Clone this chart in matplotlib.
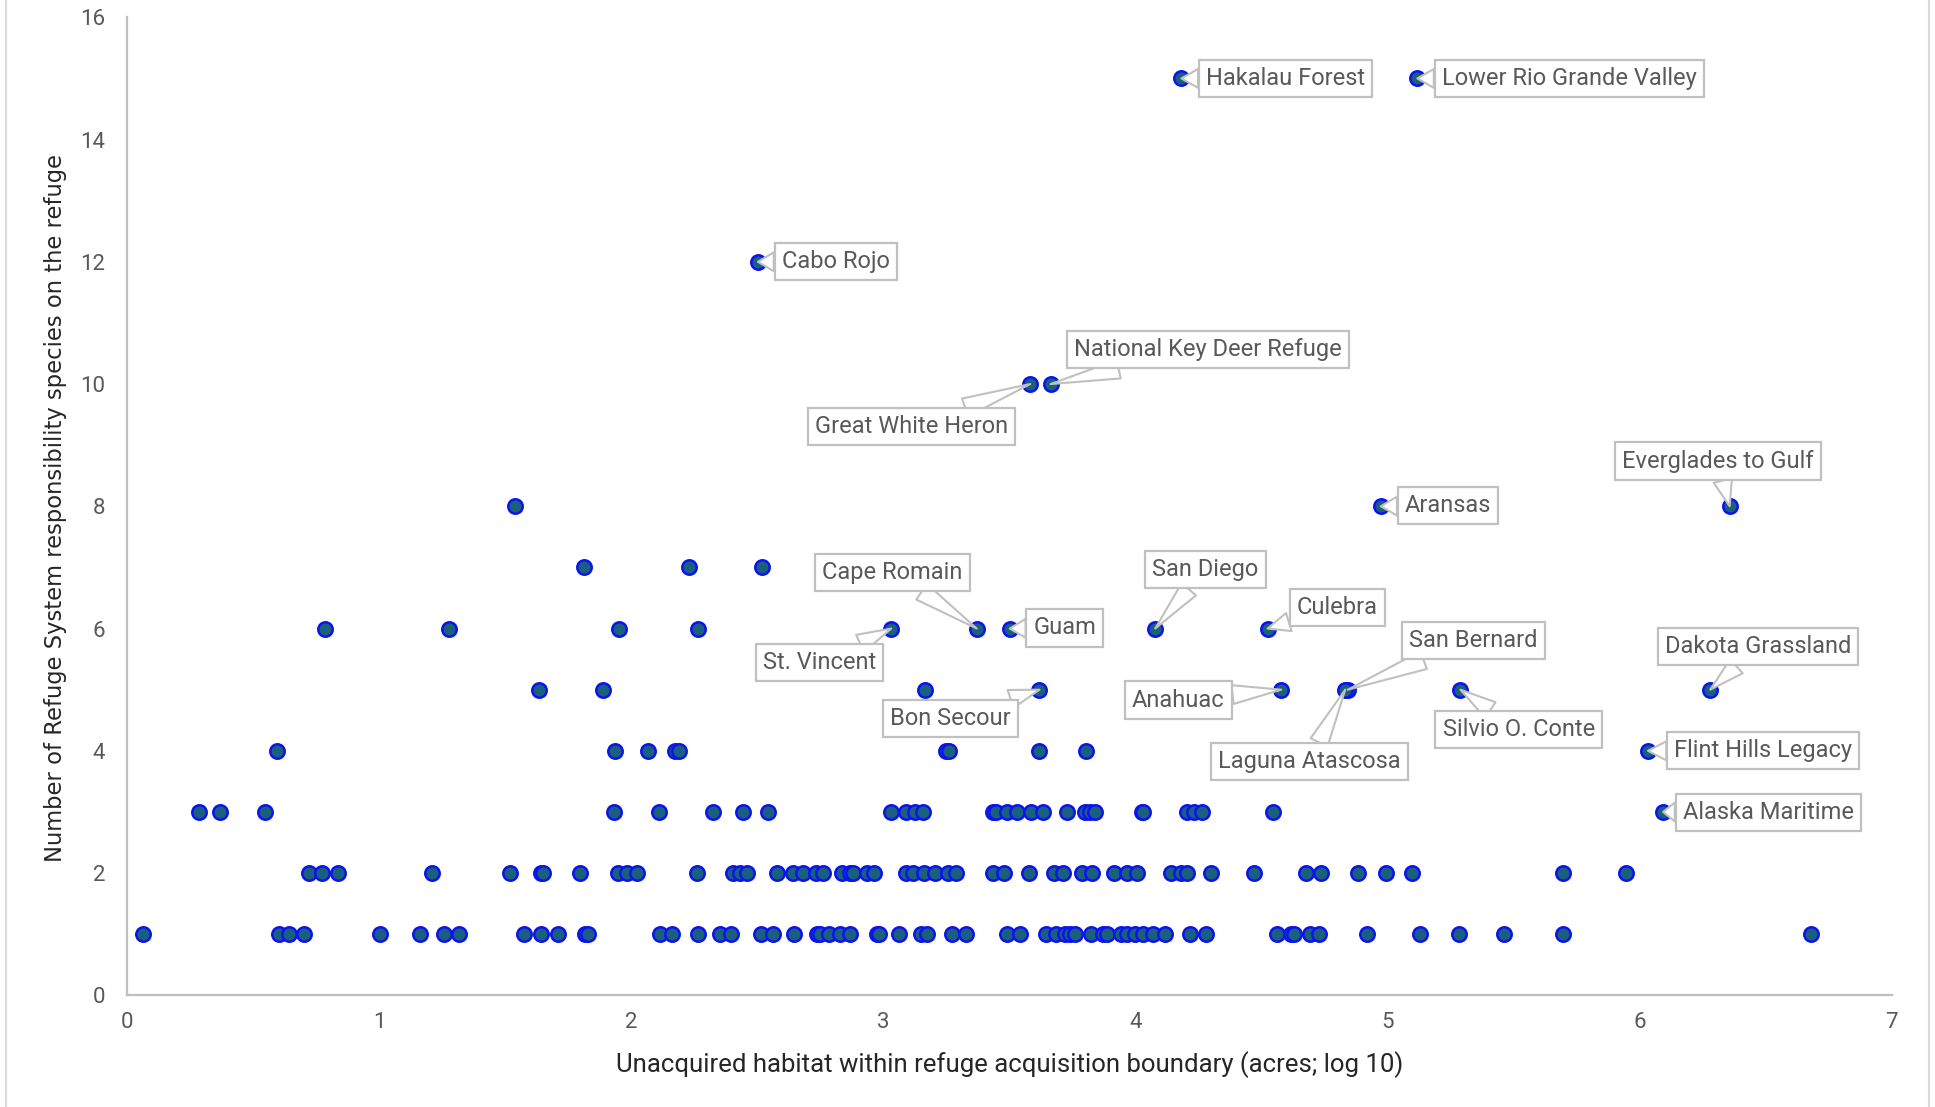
import matplotlib
matplotlib.use("Agg")
import matplotlib.pyplot as plt
from matplotlib.lines import Line2D

# ---------------- data ----------------
# unlabeled refuges, grouped by number of responsibility species (y)
row1_x = [0.064, 0.602, 0.640, 0.703, 1.004, 1.161, 1.258, 1.314, 1.572, 1.641,
          1.709, 1.816, 1.829, 2.115, 2.161, 2.265, 2.350, 2.395, 2.515, 2.560,
          2.647, 2.737, 2.749, 2.785, 2.827, 2.867, 2.975, 2.982, 3.063, 3.147,
          3.171, 3.272, 3.326, 3.490, 3.543, 3.645, 3.683, 3.719, 3.740, 3.760,
          3.823, 3.870, 3.888, 3.941, 3.966, 3.998, 4.028, 4.071, 4.117, 4.215,
          4.281, 4.562, 4.615, 4.627, 4.694, 4.726, 4.917, 5.130, 5.283, 5.463,
          5.694, 6.678]
row2_x = [0.719, 0.771, 0.834, 1.207, 1.517, 1.640, 1.648, 1.795, 1.947, 1.984,
          2.021, 2.260, 2.405, 2.432, 2.457, 2.579, 2.642, 2.679, 2.732, 2.762,
          2.834, 2.867, 2.880, 2.933, 2.962, 3.089, 3.119, 3.160, 3.203, 3.255,
          3.286, 3.436, 3.477, 3.576, 3.678, 3.711, 3.788, 3.827, 3.913, 3.966,
          4.004, 4.142, 4.179, 4.204, 4.298, 4.472, 4.676, 4.734, 4.881, 4.994,
          5.096, 5.697, 5.946]
row3_x = [0.283, 0.369, 0.546, 1.931, 2.110, 2.322, 2.441, 2.543, 3.028, 3.089,
          3.124, 3.155, 3.434, 3.447, 3.489, 3.530, 3.587, 3.632, 3.730, 3.801,
          3.820, 3.839, 4.027, 4.031, 4.204, 4.232, 4.262, 4.546]
row4_x = [0.594, 1.933, 2.064, 2.171, 2.188, 3.248, 3.258, 3.616, 3.805]
row5_x = [1.634, 1.887, 3.164]
row6_x = [0.786, 1.278, 1.951, 2.266]
row7_x = [1.813, 2.229, 2.518]
row8_x = [1.540]

rows_x = [row1_x, row2_x, row3_x, row4_x, row5_x, row6_x, row7_x, row8_x]
rows_y = [1, 2, 3, 4, 5, 6, 7, 8]

# labeled refuges
label_names = ["Hakalau Forest", "Lower Rio Grande Valley", "Cabo Rojo",
               "National Key Deer Refuge", "Great White Heron", "Everglades to Gulf",
               "Aransas", "Cape Romain", "San Diego", "Culebra", "Guam",
               "San Bernard", "Dakota Grassland", "St. Vincent", "Anahuac",
               "Bon Secour", "Silvio O. Conte", "Flint Hills Legacy",
               "Laguna Atascosa", "Alaska Maritime"]
label_x = [4.182, 5.118, 2.502, 3.663, 3.582, 6.357, 4.973, 3.370, 4.078, 4.524,
           3.501, 4.842, 6.280, 3.031, 4.578, 3.619, 5.289, 6.033, 4.832, 6.093]
label_y = [15, 15, 12, 10, 10, 8, 8, 6, 6, 6, 6, 5, 5, 6, 5, 5, 5, 4, 5, 3]

x_ticks = [0, 1, 2, 3, 4, 5, 6, 7]
y_ticks = [0, 2, 4, 6, 8, 10, 12, 14, 16]
x_title = "Unacquired habitat within refuge acquisition boundary (acres; log 10)"
y_title = "Number of Refuge System responsibility species on the refuge"

# label box centres (layout, data coordinates)
box_pos = {
    "Hakalau Forest": (4.595, 15.0),
    "Lower Rio Grande Valley": (5.72, 15.0),
    "Cabo Rojo": (2.81, 12.0),
    "National Key Deer Refuge": (4.286, 10.56),
    "Great White Heron": (3.11, 9.30),
    "Everglades to Gulf": (6.31, 8.74),
    "Aransas": (5.24, 8.01),
    "Cape Romain": (3.036, 6.92),
    "San Diego": (4.277, 6.96),
    "Culebra": (4.80, 6.35),
    "Guam": (3.72, 6.01),
    "San Bernard": (5.34, 5.80),
    "Dakota Grassland": (6.47, 5.70),
    "St. Vincent": (2.746, 5.44),
    "Anahuac": (4.17, 4.83),
    "Bon Secour": (3.266, 4.53),
    "Silvio O. Conte": (5.52, 4.35),
    "Flint Hills Legacy": (6.49, 4.0),
    "Laguna Atascosa": (4.69, 3.82),
    "Alaska Maritime": (6.51, 2.99),
}

# ---------------- figure ----------------
W, H = 1935, 1107
fig = plt.figure(figsize=(W / 100, H / 100), dpi=100)
ax = fig.add_axes([127.3 / W, 1 - 995.3 / H, (1891.7 - 127.3) / W, (995.3 - 17.3) / H])

face = "#1a5f7e"
edge = "#0a14f0"
ms = 108
for xs, yv in zip(rows_x, rows_y):
    ax.scatter(xs, [yv] * len(xs), s=ms, c=face, edgecolors=edge, linewidths=1.8, zorder=3)
ax.scatter(label_x, label_y, s=ms, c=face, edgecolors=edge, linewidths=1.8, zorder=3)

lbl_font = "Roboto"
for name, px, py in zip(label_names, label_x, label_y):
    bx, by = box_pos[name]
    ax.annotate(name, xy=(px, py), xytext=(bx, by), textcoords="data",
                ha="center", va="center", fontsize=17, color="#595959",
                family=lbl_font, zorder=5,
                bbox=dict(boxstyle="square,pad=0.3", fc="white", ec="#c0c0c0", lw=1.6),
                arrowprops=dict(arrowstyle="wedge,tail_width=0.8,shrink_factor=0.5",
                                fc="white", ec="#c0c0c0", lw=1.5,
                                shrinkA=0, shrinkB=0))

ax.set_xlim(0, 7)
ax.set_ylim(0, 16)
ax.set_xticks(x_ticks)
ax.set_yticks(y_ticks)
ax.tick_params(length=0, labelsize=16, labelcolor="#595959")
ax.tick_params(axis="y", pad=16)
ax.tick_params(axis="x", pad=12)
for lab in ax.get_xticklabels() + ax.get_yticklabels():
    lab.set_family(lbl_font)
for s in ["top", "right"]:
    ax.spines[s].set_visible(False)
for s in ["left", "bottom"]:
    ax.spines[s].set_color("#bfbfbf")
    ax.spines[s].set_linewidth(1.6)

fig.text(1010 / W, 1 - 1065 / H, x_title, ha="center", va="center",
         fontsize=18.5, color="#262626", family=lbl_font)
fig.text(56 / W, 1 - 508 / H, y_title, ha="center", va="center", rotation=90,
         fontsize=16.3, color="#262626", family="DejaVu Sans")

# outer chart border (left/right edges)
for xb in (6 / W, 1929 / W):
    fig.add_artist(Line2D([xb, xb], [0, 1], transform=fig.transFigure,
                          color="#d9d9d9", lw=1.5))

fig.savefig("out.png", dpi=100, facecolor="white")
